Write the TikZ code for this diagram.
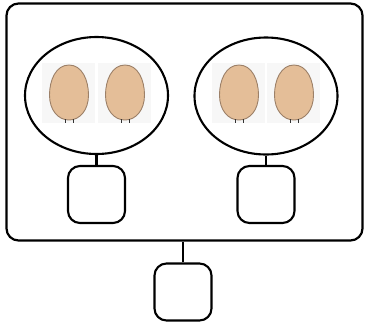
\documentclass[tikz,border=0pt]{standalone}
\usetikzlibrary{shapes.geometric}
\definecolor{eggfill}{HTML}{E4BE98}
\definecolor{eggline}{HTML}{9C8068}
\tikzset{
  frame/.style={draw, line width=2.2pt, rounded corners=12pt, minimum width=356pt, minimum height=237pt, inner sep=0pt},
  cell/.style={draw, line width=2.1pt, ellipse, minimum width=143pt, minimum height=117pt, inner sep=0pt},
  unit/.style={draw, line width=2.1pt, rounded corners=12pt, minimum width=57pt, minimum height=57pt, inner sep=0pt},
  link/.style={line width=2.1pt},
  egg/.style={fill=eggfill, draw=eggline, line width=0.9pt},
  eggbg/.style={fill=black!3, draw=none},
  stub/.style={line width=0.9pt, draw=black!80}
}
\begin{document}
\begin{tikzpicture}[x=1pt,y=-1pt]
\useasboundingbox (0,0) rectangle (365,325);
\node[frame] (frame) at (184.5,122) {};
\node[cell] (e1) at (96.5,95.5) {};
\node[cell] (e2) at (266,96) {};
\node[unit] (b1) at (96.5,194.5) {};
\node[unit] (b2) at (266,194.5) {};
\node[unit] (b3) at (183,292) {};
\draw[link] (e1.south) -- (b1.north);
\draw[link] (e2.south) -- (b2.north);
\draw[link] (b3.north) -- (b3.north |- frame.south);
\foreach \cx in {69,125,239,294}{
  \fill[eggbg] (\cx-27,63) rectangle (\cx+26,123);
  \draw[egg] (\cx,65) .. controls (\cx+13,65) and (\cx+19.5,80) .. (\cx+19.5,95)
     .. controls (\cx+19.5,110) and (\cx+11,120) .. (\cx,120)
     .. controls (\cx-11,120) and (\cx-19.5,110) .. (\cx-19.5,95)
     .. controls (\cx-19.5,80) and (\cx-13,65) .. cycle;
  \draw[stub] (\cx-4,119) -- (\cx-4,123);
  \draw[stub] (\cx+4,119) -- (\cx+4,123);
}
\end{tikzpicture}
\end{document}
